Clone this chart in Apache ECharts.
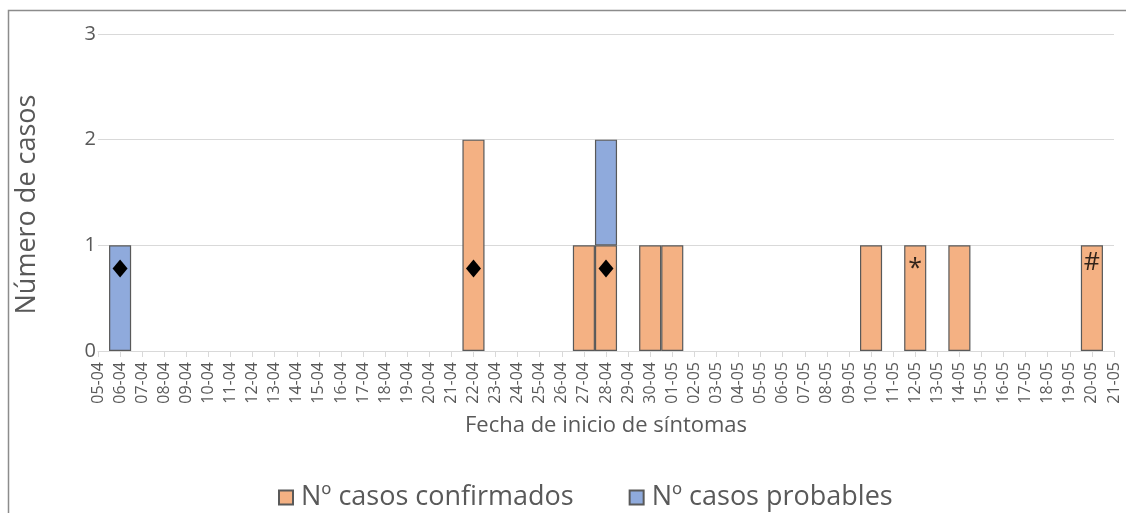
<!DOCTYPE html>
<html>
<head>
<meta charset="utf-8">
<script src="https://cdn.jsdelivr.net/npm/echarts@6/dist/echarts.min.js"></script>
<style>html,body{margin:0;padding:0;background:#fff}#c{width:1126px;height:513px}</style>
</head>
<body>
<div id="c"></div>
<script>
var dates = ['05-04','06-04','07-04','08-04','09-04','10-04','11-04','12-04','13-04','14-04','15-04','16-04','17-04','18-04','19-04','20-04','21-04','22-04','23-04','24-04','25-04','26-04','27-04','28-04','29-04','30-04','01-05','02-05','03-05','04-05','05-05','06-05','07-05','08-05','09-05','10-05','11-05','12-05','13-05','14-05','15-05','16-05','17-05','18-05','19-05','20-05','21-05'];
var confirmedDates = ['22-04','27-04','28-04','30-04','01-05','10-05','12-05','14-05','20-05'];
var confirmedValues = [2,1,1,1,1,1,1,1,1];
var probableDates = ['06-04','28-04'];
var probableValues = [1,1];
var diamondDates = ['06-04','22-04','28-04'];
var diamondValue = 0.78;
var noteDates = ['12-05','20-05'];
var noteTexts = ['*','#'];
var noteValues = [0.78,0.83];

function fill(ds, vs){
  var out = dates.map(function(){return null;});
  ds.forEach(function(d,i){ out[dates.indexOf(d)] = vs[i]; });
  return out;
}
var FONT = '"Open Sans", sans-serif';
var GREY = '#595959';
var chart = echarts.init(document.getElementById('c'), null, {renderer:'canvas'});
chart.setOption({
  animation:false,
  backgroundColor:'#fff',
  textStyle:{fontFamily:FONT},
  graphic:[{type:'rect', shape:{x:8.5,y:10.5,width:1200,height:600}, style:{fill:'none',stroke:'#8c8c8c',lineWidth:1.5}, silent:true, z:-1}],
  grid:{left:98, right:12, top:34, bottom:162, containLabel:false},
  legend:{
    data:['Nº casos confirmados','Nº casos probables'],
    top:484, left:278, padding:0, itemWidth:14, itemHeight:14, itemGap:55,
    textStyle:{fontSize:27, color:GREY, fontFamily:FONT, padding:[0,0,0,3]},
    icon:'rect'
  },
  xAxis:{
    type:'category', data:dates, boundaryGap:false,
    axisLine:{lineStyle:{color:'#d9d9d9'}},
    axisTick:{show:true, length:6, interval:0, lineStyle:{color:'#d9d9d9'}},
    axisLabel:{rotate:90, interval:0, fontSize:16, color:GREY, margin:11, fontFamily:FONT},
    name:'Fecha de inicio de síntomas', nameLocation:'middle', nameGap:64,
    nameTextStyle:{fontSize:22, color:GREY, fontFamily:FONT}
  },
  yAxis:{
    type:'value', min:0, max:3, interval:1,
    axisLine:{show:false}, axisTick:{show:false},
    splitLine:{lineStyle:{color:'#d9d9d9'}},
    axisLabel:{fontSize:20, color:GREY, margin:2, fontFamily:FONT},
    name:'Número de casos', nameLocation:'middle', nameGap:57, nameRotate:90,
    nameTextStyle:{fontSize:27, color:GREY, fontFamily:FONT, padding:[0,24,0,0]}
  },
  series:[
    {name:'Nº casos confirmados', type:'bar', stack:'a', data:fill(confirmedDates, confirmedValues),
     barWidth:'100%', itemStyle:{color:'#f4b183', borderColor:'#595959', borderWidth:1.2}},
    {name:'Nº casos probables', type:'bar', stack:'a', data:fill(probableDates, probableValues),
     barWidth:'100%', itemStyle:{color:'#8faadc', borderColor:'#595959', borderWidth:1.2}},
    {name:'diamonds', type:'scatter', symbol:'diamond', symbolSize:[15,18],
     data:diamondDates.map(function(d){return [d, diamondValue];}),
     itemStyle:{color:'#000', opacity:1}, z:5},
    {name:'notes', type:'scatter', symbolSize:1,
     data:noteDates.map(function(d,i){return {value:[d, noteValues[i]], label:{formatter:noteTexts[i]}};}),
     itemStyle:{color:'rgba(0,0,0,0)'},
     label:{show:true, position:'inside', fontSize:25, color:'#000', fontFamily:FONT}, z:5}
  ]
});
</script>
</body>
</html>
